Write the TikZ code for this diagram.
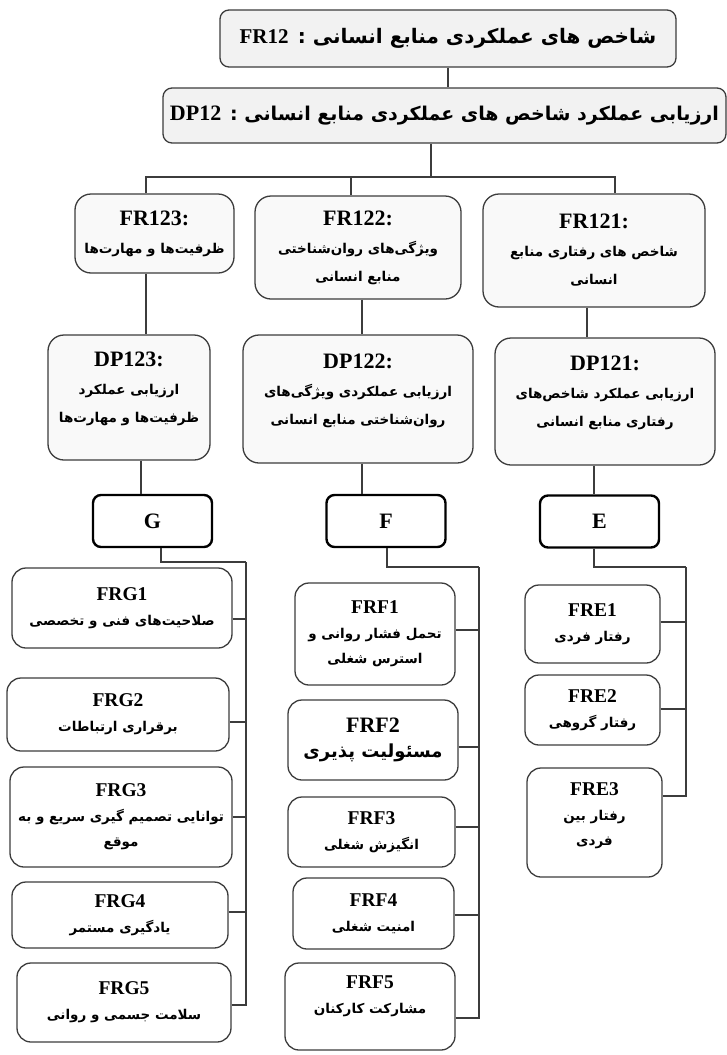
\documentclass[tikz,border=0pt]{standalone}
\usepackage{fontspec}
\setmainfont{Liberation Serif}
\newfontfamily\persianfont[Script=Arabic]{DejaVu Sans}
\TeXXeTstate=1
\usetikzlibrary{calc}
\definecolor{boxline}{HTML}{3C3C3C}
\definecolor{topfill}{HTML}{F2F2F2}
\definecolor{midfill}{HTML}{F9F9F9}
\newcommand{\fl}[1]{{\persianfont\bfseries\beginR #1\endR}}
\newcommand{\lat}[2][19.5]{{\rmfamily\fontsize{#1}{#1}\selectfont\bfseries #2}}

\begin{document}
\begin{tikzpicture}[x=1pt,y=-1pt,
  box/.style={draw=boxline,line width=1.3pt,align=center,inner sep=2pt},
  topbox/.style={box,fill=topfill,rounded corners=9pt},
  midbox/.style={box,fill=midfill,rounded corners=16pt,font=\fontsize{13.5}{28}\selectfont},
  leafbox/.style={box,fill=white,rounded corners=14pt,font=\fontsize{13.5}{25}\selectfont},
  lift/.style={text depth=#1},
  letterbox/.style={draw=black,line width=2.4pt,rounded corners=8pt,minimum width=119pt,minimum height=52pt,font=\fontsize{22}{24}\selectfont\bfseries},
  link/.style={draw=boxline,line width=1.3pt}]
\useasboundingbox (0,0) rectangle (727,1055);

\node[topbox,minimum width=456pt,minimum height=57pt] (fr12) at (448,38.5)
  {\fontsize{20}{22}\selectfont\persianfont\bfseries\beginR شاخص های عملکردی منابع انسانی : \beginL\lat[21]{FR12}\endL\endR};
\node[topbox,minimum width=563pt,minimum height=55pt] (dp12) at (444.5,115.5)
  {\fontsize{19}{22}\selectfont\persianfont\bfseries\beginR ارزیابی عملکرد شاخص های عملکردی منابع انسانی : \beginL\lat[22]{DP12}\endL\endR};

\node[midbox,minimum width=159pt,minimum height=79pt] (fr123) at (154.5,233.5)
  {\lat[22]{FR123:}\\\fl{ظرفیت^^^^200cها و مهارت^^^^200cها}};
\node[midbox,minimum width=206pt,minimum height=103pt] (fr122) at (358,247.5)
  {\lat[22]{FR122:}\\\fl{ویژگی^^^^200cهای روان^^^^200cشناختی}\\\fl{منابع انسانی}};
\node[midbox,minimum width=222pt,minimum height=113pt] (fr121) at (594,250.5)
  {\lat[22]{FR121:}\\\fl{شاخص های رفتاری منابع}\\\fl{انسانی}};

\node[midbox,lift=20pt,minimum width=162pt,minimum height=125pt] (dp123) at (129,397.5)
  {\lat[22]{DP123:}\\\fl{ارزیابی عملکرد}\\\fl{ظرفیت^^^^200cها و مهارت^^^^200cها}};
\node[midbox,lift=20pt,minimum width=230pt,minimum height=128pt] (dp122) at (358,399)
  {\lat[22]{DP122:}\\\fl{ارزیابی عملکردی ویژگی^^^^200cهای}\\\fl{روان^^^^200cشناختی منابع انسانی}};
\node[midbox,lift=20pt,minimum width=220pt,minimum height=127pt] (dp121) at (605,401.5)
  {\lat[22]{DP121:}\\\fl{ارزیابی عملکرد شاخص^^^^200cهای}\\\fl{رفتاری منابع انسانی}};

\node[letterbox] (g) at (152.5,521) {G};
\node[letterbox] (f) at (386,521) {F};
\node[letterbox] (e) at (599.5,521.5) {E};

\node[leafbox,minimum width=220pt,minimum height=80pt] (frg1) at (122,608)
  {\lat{FRG1}\\\fl{صلاحیت^^^^200cهای فنی و تخصصی}};
\node[leafbox,minimum width=222pt,minimum height=73pt] (frg2) at (118,714.5)
  {\lat{FRG2}\\\fl{برقراری ارتباطات}};
\node[leafbox,minimum width=222pt,minimum height=100pt] (frg3) at (121,817)
  {\lat{FRG3}\\\fl{توانایی تصمیم گیری سریع و به}\\\fl{موقع}};
\node[leafbox,minimum width=216pt,minimum height=66pt] (frg4) at (120,915)
  {\lat{FRG4}\\\fl{یادگیری مستمر}};
\node[leafbox,minimum width=214pt,minimum height=79pt] (frg5) at (124,1002.5)
  {\lat{FRG5}\\\fl{سلامت جسمی و روانی}};

\node[leafbox,minimum width=160pt,minimum height=102pt] (frf1) at (375,634)
  {\lat{FRF1}\\\fl{تحمل فشار روانی و}\\\fl{استرس شغلی}};
\node[leafbox,minimum width=170pt,minimum height=80pt] (frf2) at (373,740)
  {\lat[22]{FRF2}\\{\fontsize{18}{28}\selectfont\fl{مسئولیت پذیری}}};
\node[leafbox,minimum width=167pt,minimum height=70pt] (frf3) at (371.5,832)
  {\lat{FRF3}\\\fl{انگیزش شغلی}};
\node[leafbox,minimum width=161pt,minimum height=71pt] (frf4) at (373.5,913.5)
  {\lat{FRF4}\\\fl{امنیت شغلی}};
\node[leafbox,lift=24pt,minimum width=170pt,minimum height=87pt] (frf5) at (370,1006.5)
  {\lat{FRF5}\\\fl{مشارکت کارکنان}};

\node[leafbox,minimum width=135pt,minimum height=78pt] (fre1) at (592.5,624)
  {\lat{FRE1}\\\fl{رفتار فردی}};
\node[leafbox,minimum width=135pt,minimum height=70pt] (fre2) at (592.5,710)
  {\lat{FRE2}\\\fl{رفتار گروهی}};
\node[leafbox,lift=16pt,minimum width=135pt,minimum height=109pt] (fre3) at (594.5,822.5)
  {\lat{FRE3}\\\fl{رفتار بین}\\\fl{فردی}};

\coordinate (j0) at (431,177);
\coordinate (j1) at (615,177);
\coordinate (j2) at (351,177);
\coordinate (j3) at (146,177);
\draw[link] (fr12.south) -- (fr12.south |- dp12.north);
\draw[link] (j0 |- dp12.south) -- (j0);
\draw[link] (j3 |- fr123.north) -- (j3) -- (j1) -- (j1 |- fr121.north);
\draw[link] (j2) -- (j2 |- fr122.north);
\foreach \a/\b/\x in {fr123/dp123/146,fr122/dp122/362,fr121/dp121/587,dp123/g/141,dp122/f/362,dp121/e/594}
  \draw[link] (\x,0 |- \a.south) -- (\x,0 |- \b.north);

\coordinate (gbus) at (246,562);
\coordinate (fbus) at (479,567);
\coordinate (ebus) at (686,567);
\draw[link] (161,0 |- g.south) |- (gbus);
\draw[link] (387,0 |- f.south) |- (fbus);
\draw[link] (594,0 |- e.south) |- (ebus);
\foreach \n/\d in {frg1/11,frg2/7.5,frg3/0,frg4/-3,frg5/2.5}
  \draw[link] ($(\n.east)+(0,\d)$) -| (gbus);
\foreach \n/\d in {frf1/-4,frf2/7,frf3/-5,frf4/1.5,frf5/11.5}
  \draw[link] ($(\n.east)+(0,\d)$) -| (fbus);
\foreach \n/\d in {fre1/-2,fre2/-1,fre3/-26.5}
  \draw[link] ($(\n.east)+(0,\d)$) -| (ebus);
\end{tikzpicture}
\end{document}
